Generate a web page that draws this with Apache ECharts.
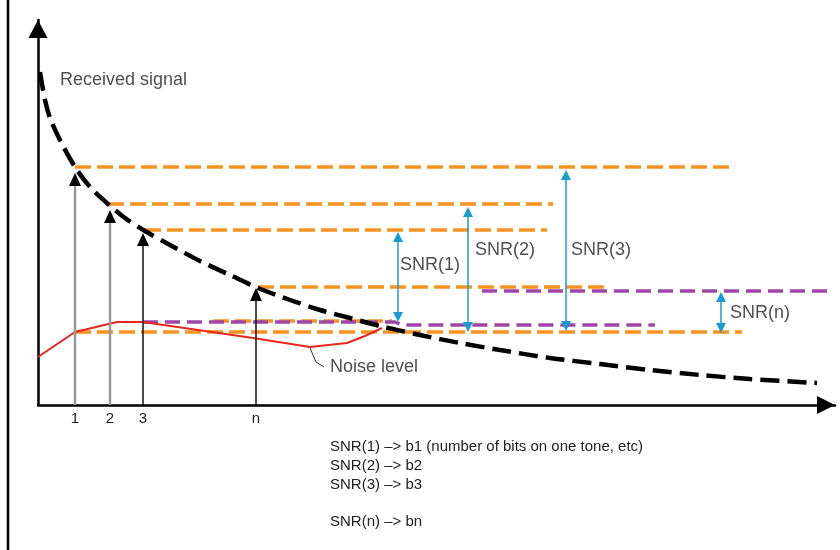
<!DOCTYPE html>
<html>
<head>
<meta charset="utf-8">
<script src="https://cdn.jsdelivr.net/npm/echarts@6/dist/echarts.min.js"></script>
<style>html,body{margin:0;padding:0;background:#fff}#c{width:840px;height:550px}</style>
</head>
<body>
<div id="c"></div>
<script>
// Diagram values (arbitrary units: x = tone position, y = level)
const receivedSignal = [[2,333],[7,305],[12,287],[22,265],[37,238],[52,218],[70,201],[87,187],[107,174],[132,160],[162,144],[192,130],[220,117],[252,105],[282,95],[312,87],[342,79],[382,70],[422,62],[462,55],[512,47],[562,41],[612,35],[662,30],[712,26],[779,22]];
const noiseLevel = [[0,48],[37,73],[79,83],[105,83],[215,67],[272,58],[309,62],[327,69],[344,77]];
const toneX = [37, 72, 105, 218];
const toneLabels = ['1', '2', '3', 'n'];
const toneSignal = [232, 195, 172, 117];
// orange reference levels: [xStart, xEnd, level]
const orangeLevels = [[37,697,238],[70,515,201],[107,509,175],[220,572,118],[37,704,73],[175,354,84]];
// purple noise levels (paths)
const purpleLevels = [[[444,114],[792,114]], [[105,83],[357,83],[364,80],[617,80]]];
// SNR arrows: [x, bottom, top, label]
const snrArrows = [[360,83,173,'SNR(1)'],[430,73,198,'SNR(2)'],[528,74,235,'SNR(3)'],[683,72,113,'SNR(n)']];
const snrLabelPos = [[362,140],[437,155],[533,155],[692,92]];
const noiseLeader = [[272,57],[278,43],[286,38]];
const noteLines = ['SNR(1) \u2013> b1 (number of bits on one tone, etc)', 'SNR(2) \u2013> b2', 'SNR(3) \u2013> b3', '', 'SNR(n) \u2013> bn'];

const FONT = 'Liberation Sans, Arial, sans-serif';
const ORANGE = '#F7931E', PURPLE = '#A045A8', BLUE = '#1A9CD2', RED = '#E8281E';

const series = [];
orangeLevels.forEach(l => series.push({
  type: 'line', data: [[l[0], l[2]], [l[1], l[2]]], showSymbol: false, clip: false, silent: true, z: 3,
  lineStyle: { color: ORANGE, width: 3.5, type: [16, 6] }
}));
purpleLevels.forEach(p => series.push({
  type: 'line', data: p, showSymbol: false, clip: false, silent: true, z: 4,
  lineStyle: { color: PURPLE, width: 3.5, type: [15, 7] }
}));
series.push({
  type: 'line', data: noiseLevel, showSymbol: false, clip: false, z: 5,
  lineStyle: { color: RED, width: 2 }
});
series.push({
  type: 'line', data: noiseLeader, showSymbol: false, clip: false, z: 5,
  lineStyle: { color: '#333', width: 1 }
});
// tone arrows
toneX.forEach((x, i) => series.push({
  type: 'line', data: [[x, 0], [x, toneSignal[i] - 8]], showSymbol: false, clip: false, z: 6,
  lineStyle: i < 2 ? { color: '#999', width: 2.5 } : { color: '#111', width: 1.5 }
}));
series.push({
  type: 'scatter', clip: false, z: 8, symbol: 'triangle', symbolSize: [12, 13], symbolOffset: [0, 6.5],
  itemStyle: { color: '#000', opacity: 1 },
  data: toneX.map((x, i) => [x, toneSignal[i]])
});
series.push({
  type: 'line', data: receivedSignal, smooth: 0.3, showSymbol: false, clip: false, z: 7,
  lineStyle: { color: '#000', width: 4.5, type: [19, 8] }
});
// SNR arrows
snrArrows.forEach(a => series.push({
  type: 'line', data: [[a[0], a[1] + 5], [a[0], a[2] - 5]], showSymbol: false, clip: false, z: 9,
  lineStyle: { color: BLUE, width: 1.5 }
}));
series.push({
  type: 'scatter', clip: false, z: 10, symbol: 'triangle', symbolSize: [10, 10], symbolOffset: [0, 5],
  itemStyle: { color: BLUE, opacity: 1 }, data: snrArrows.map(a => [a[0], a[2]])
});
series.push({
  type: 'scatter', clip: false, z: 10, symbol: 'triangle', symbolSize: [10, 10], symbolOffset: [0, -5], symbolRotate: 180,
  itemStyle: { color: BLUE, opacity: 1 }, data: snrArrows.map(a => [a[0], a[1]])
});
// text labels
const textLabels = snrArrows.map((a, i) => ({ value: snrLabelPos[i], name: a[3] }))
  .concat([{ value: [22, 325], name: 'Received signal' }, { value: [292, 38], name: 'Noise level' }]);
series.push({
  type: 'scatter', clip: false, z: 11, symbolSize: 0, data: textLabels,
  label: { show: true, position: 'right', distance: 0, formatter: p => p.name, color: '#222', fontSize: 18, fontFamily: FONT }
});

const chart = echarts.init(document.getElementById('c'), null, { renderer: 'canvas' });
chart.setOption({
  animation: false,
  backgroundColor: '#fff',
  grid: { left: 38, top: 20, width: 797, height: 385 },
  xAxis: {
    type: 'value', min: 0, max: 797,
    splitLine: { show: false },
    axisLine: { show: true, symbol: ['none', 'triangle'], symbolSize: [18, 18], symbolOffset: [0, -9], lineStyle: { color: '#000', width: 2.5 } },
    axisTick: { show: false },
    axisLabel: { show: true, customValues: toneX, formatter: v => toneLabels[toneX.indexOf(v)], color: '#222', fontSize: 15, fontFamily: FONT, margin: 6 }
  },
  yAxis: {
    type: 'value', min: 0, max: 385,
    splitLine: { show: false },
    axisLine: { show: true, symbol: ['none', 'triangle'], symbolSize: [19, 18], symbolOffset: [0, -9], lineStyle: { color: '#000', width: 2.5 } },
    axisTick: { show: false },
    axisLabel: { show: false }
  },
  graphic: [
    { type: 'line', shape: { x1: 8, y1: 0, x2: 8, y2: 550 }, style: { stroke: '#000', lineWidth: 2.5 } },
    { type: 'text', left: 330, top: 438, style: { text: noteLines.join('\n'), font: '15px ' + FONT, lineHeight: 18.7, fill: '#222' } }
  ],
  series: series
});
</script>
</body>
</html>
